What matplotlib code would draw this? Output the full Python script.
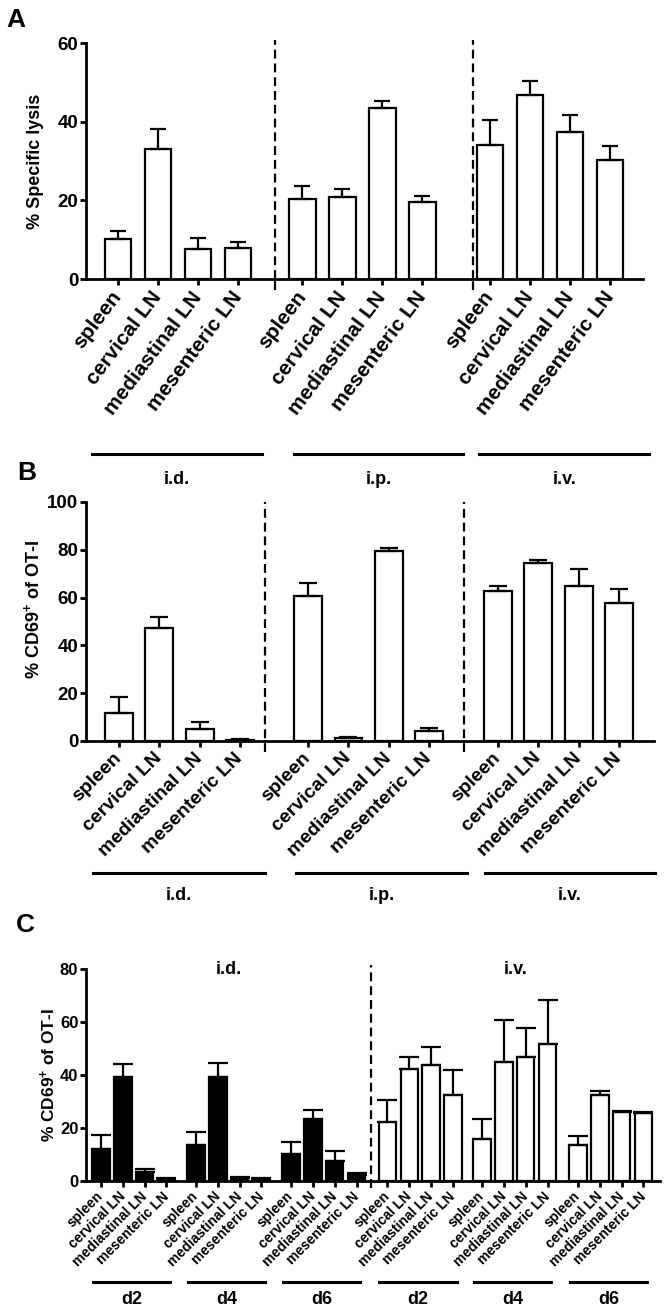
import numpy as np
import matplotlib
matplotlib.use("Agg")
import matplotlib.pyplot as plt
from matplotlib.transforms import blended_transform_factory

plt.rcParams['font.family'] = ['Liberation Sans', 'DejaVu Sans']
plt.rcParams['font.weight'] = 'bold'
plt.rcParams['axes.labelweight'] = 'bold'
plt.rcParams['mathtext.fontset'] = 'custom'
plt.rcParams['mathtext.rm'] = 'Liberation Sans:bold'
plt.rcParams['mathtext.bf'] = 'Liberation Sans:bold'
plt.rcParams['mathtext.it'] = 'Liberation Sans:bold'

# ── Data ─────────────────────────────────────────────────────────────────────
tissues = ["spleen", "cervical LN", "mediastinal LN", "mesenteric LN"]
routes = ["i.d.", "i.p.", "i.v."]
days = ["d2", "d4", "d6"]

# Panel A: % specific lysis (mean, SEM)
a_mean = [[10.2, 33.1, 7.6, 7.9],
          [20.3, 20.9, 43.5, 19.6],
          [34.1, 46.8, 37.4, 30.3]]
a_sem = [[2.0, 5.1, 2.8, 1.5],
         [3.4, 2.0, 1.8, 1.5],
         [6.3, 3.6, 4.3, 3.5]]

# Panel B: % CD69+ of OT-I
b_mean = [[11.7, 47.3, 5.0, 0.5],
          [60.7, 1.2, 79.5, 4.0],
          [62.8, 74.5, 64.9, 57.7]]
b_sem = [[6.7, 4.6, 2.9, 0.3],
         [5.4, 0.6, 1.3, 1.5],
         [2.1, 1.2, 7.1, 5.9]]

# Panel C: % CD69+ of OT-I over time, i.d. (filled) and i.v. (open)
c_id_mean = [[12.1, 39.1, 3.5, 0.8],
             [13.7, 39.1, 1.2, 0.8],
             [10.3, 23.5, 7.4, 2.1]]
c_id_sem = [[5.3, 5.1, 1.1, 0.3],
            [4.8, 5.5, 0.3, 0.2],
            [4.5, 3.4, 4.0, 1.0]]
c_iv_mean = [[22.1, 42.3, 43.9, 32.5],
             [15.9, 44.8, 46.9, 51.8],
             [13.4, 32.5, 26.1, 25.6]]
c_iv_sem = [[8.6, 4.6, 6.5, 9.5],
            [7.6, 15.8, 10.9, 16.6],
            [3.7, 1.3, 0.5, 0.5]]

# ── Style ────────────────────────────────────────────────────────────────────
LW = 1.6
W, H = 667, 1311


def fy(py):
    return 1 - py / H


def setup_axes(ax, ymax, yticks, ysize):
    for s in ['top', 'right']:
        ax.spines[s].set_visible(False)
    for s in ['left', 'bottom']:
        ax.spines[s].set_linewidth(2.0)
    ax.set_ylim(0, ymax)
    ax.set_yticks(yticks)
    ax.tick_params(axis='both', direction='out', width=2.0, length=4.5)
    ax.tick_params(axis='y', labelsize=ysize, pad=1)


def draw_bars(ax, xs, means, sems, width, face):
    ax.bar(xs, means, width=width, color=face, edgecolor='black',
           linewidth=LW, zorder=2)
    ax.errorbar(xs, means, yerr=[np.zeros(len(sems)), sems], fmt='none',
                ecolor='black', elinewidth=LW, capsize=width * 9,
                capthick=LW, zorder=3)


def dashed(ax, x, y0, y1):
    ax.plot([x, x], [y0, y1], color='black', lw=1.6, ls=(0, (4, 2.2)),
            clip_on=False, zorder=4)


def group_lines(fig, ax, spans, labels, y_line, y_text, fs):
    tr = blended_transform_factory(ax.transData, fig.transFigure)
    for (x0, x1), lab in zip(spans, labels):
        ax.plot([x0, x1], [y_line, y_line], color='black', lw=2.2,
                transform=tr, clip_on=False)
        ax.text((x0 + x1) / 2, y_text, lab, transform=tr, ha='center',
                va='center', fontsize=fs, fontweight='bold')


fig = plt.figure(figsize=(W / 100, H / 100), dpi=100)

# ── Panel A ──────────────────────────────────────────────────────────────────
axA = fig.add_axes([86 / W, fy(279), (643 - 86) / W, (279 - 43) / H])
setup_axes(axA, 60, [0, 20, 40, 60], 13.5)
offA = [0, 4.61, 9.3]
xsA = []
for g, off in enumerate(offA):
    xs = off + np.arange(4)
    xsA.extend(xs)
    draw_bars(axA, xs, a_mean[g], a_sem[g], 0.67, 'white')
axA.set_xlim(-0.8, 13.125)
axA.set_xticks(xsA)
axA.set_xticklabels(tissues * 3, rotation=53, ha='right', va='center',
                    rotation_mode='anchor', fontsize=15)
axA.tick_params(axis='x', pad=6)
dashed(axA, 3.93, 0, 60.8)
dashed(axA, 8.875, 0, 60.8)
dashed(axA, 3.93, -2.8, 0)
dashed(axA, 8.875, -2.8, 0)
axA.set_ylabel("% Specific lysis", fontsize=13)
axA.yaxis.set_label_coords(-0.075, 0.5)
group_lines(fig, axA, [(-0.65, 3.6), (4.4, 8.63), (9.03, 13.28)], routes,
            fy(454), fy(480), 13)

# ── Panel B ──────────────────────────────────────────────────────────────────
axB = fig.add_axes([86 / W, fy(741), (654 - 86) / W, (741 - 502) / H])
setup_axes(axB, 100, [0, 20, 40, 60, 80, 100], 13.5)
offB = [0, 4.69, 9.4]
xsB = []
for g, off in enumerate(offB):
    xs = off + np.arange(4)
    xsB.extend(xs)
    draw_bars(axB, xs, b_mean[g], b_sem[g], 0.69, 'white')
axB.set_xlim(-0.82, 13.27)
axB.set_xticks(xsB)
axB.set_xticklabels(tissues * 3, rotation=45, ha='right', va='center',
                    rotation_mode='anchor', fontsize=14)
axB.tick_params(axis='x', pad=6)
dashed(axB, 3.62, -4.6, 100)
dashed(axB, 8.56, -4.6, 100)
axB.set_ylabel("% CD69$^{+}$ of OT-I", fontsize=13)
axB.yaxis.set_label_coords(-0.076, 0.55)
group_lines(fig, axB, [(-0.65, 3.62), (4.39, 8.64), (9.08, 13.3)], routes,
            fy(873), fy(896), 13)

# ── Panel C ──────────────────────────────────────────────────────────────────
axC = fig.add_axes([86 / W, fy(1181), (660 - 86) / W, (1181 - 969) / H])
setup_axes(axC, 80, [0, 20, 40, 60, 80], 12)
offC_id = [0, 4.36, 8.72]
offC_iv = [13.14, 17.48, 21.88]
xsC = []
for g, off in enumerate(offC_id):
    xs = off + np.arange(4)
    xsC.extend(xs)
    draw_bars(axC, xs, c_id_mean[g], c_id_sem[g], 0.8, 'black')
for g, off in enumerate(offC_iv):
    xs = off + np.arange(4)
    xsC.extend(xs)
    draw_bars(axC, xs, c_iv_mean[g], c_iv_sem[g], 0.8, 'white')
axC.set_xlim(-0.69, 25.64)
axC.set_xticks(xsC)
axC.set_xticklabels(tissues * 6, rotation=45, ha='right', va='center',
                    rotation_mode='anchor', fontsize=10)
axC.tick_params(axis='x', pad=5)
dashed(axC, 12.39, -2.6, 81.5)
axC.set_ylabel("% CD69$^{+}$ of OT-I", fontsize=12.5)
axC.yaxis.set_label_coords(-0.049, 0.5)
axC.text(5.87, 80, "i.d.", ha='center', va='center', fontsize=13)
axC.text(19.04, 80, "i.v.", ha='center', va='center', fontsize=13)
spansC = [(off - 0.37, off + 3.17) for off in offC_id + offC_iv]
group_lines(fig, axC, spansC, days * 2, fy(1282), fy(1300), 13)

# ── Panel letters ────────────────────────────────────────────────────────────
fig.text(6 / W, fy(8), "A", fontsize=19, fontweight='bold', va='top')
fig.text(17 / W, fy(461), "B", fontsize=19, fontweight='bold', va='top')
fig.text(16 / W, fy(913), "C", fontsize=19, fontweight='bold', va='top')

fig.savefig("out.png", dpi=100)
